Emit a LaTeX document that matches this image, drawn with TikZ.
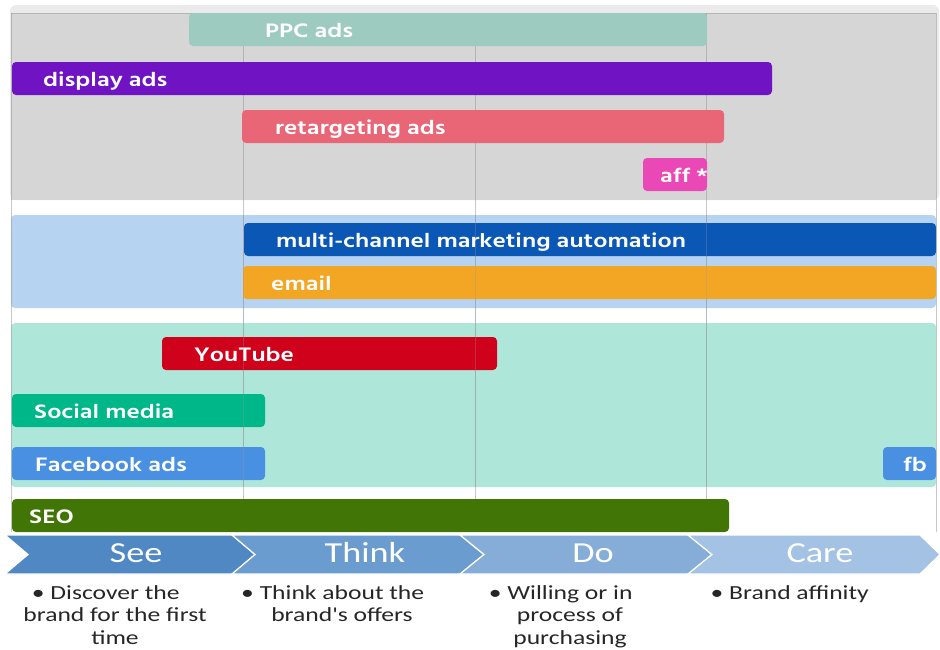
\documentclass[tikz,border=0pt]{standalone}
\usepackage{fontspec}
\setmainfont{Carlito}
\newfontfamily\barfont[FakeStretch=1.26]{Hind Siliguri}
\newfontfamily\stagefont[FakeStretch=1.25]{Carlito}
\newfontfamily\notefont[FakeStretch=1.28]{Carlito}

% channel colours
\definecolor{panelgray}{HTML}{D6D6D6}
\definecolor{panelblue}{HTML}{B6D3F2}
\definecolor{panelteal}{HTML}{AFE6DA}
\definecolor{ppcC}{HTML}{9ECBBF}
\definecolor{displayC}{HTML}{7013C3}
\definecolor{retargetC}{HTML}{E96677}
\definecolor{affC}{HTML}{EA47B7}
\definecolor{mcaC}{HTML}{0A57B5}
\definecolor{emailC}{HTML}{F3A524}
\definecolor{ytC}{HTML}{D0021B}
\definecolor{socialC}{HTML}{00B78A}
\definecolor{fbC}{HTML}{4A90E2}
\definecolor{seoC}{HTML}{417505}
% funnel stage colours
\definecolor{seeC}{HTML}{4F88C2}
\definecolor{thinkC}{HTML}{6A9CD0}
\definecolor{doC}{HTML}{86ADD8}
\definecolor{careC}{HTML}{A3C2E4}

\tikzset{
  barshape/.style={rounded corners=4pt},
  barlabel/.style={anchor=base west, inner sep=0pt, text=white,
    font=\barfont\bfseries\fontsize{20}{24}\selectfont},
  gridline/.style={draw=black!40, line width=0.8pt, opacity=0.55},
  gridover/.style={draw=black!40, line width=0.8pt, opacity=0.3},
  stage/.style={draw=white, line width=1.2pt},
  stagelabel/.style={anchor=base, inner sep=0pt, text=white,
    font=\stagefont\fontsize{29}{34}\selectfont},
  note/.style={align=center, inner sep=0pt, anchor=north, text=black!85,
    font=\notefont\fontsize{20}{22.5}\selectfont},
}

% name, left, right, top, colour, label x, label text
\newcommand{\chanbar}[7]{%
  \fill[barshape, fill=#5] (#2,#4) rectangle (#3,#4+33);
  \node[barlabel] (#1) at (#6,#4+24) {#7};}

\begin{document}
\begin{tikzpicture}[x=1pt, y=-1pt]
\useasboundingbox (0,0) rectangle (940,649);

% channel group panels
\fill[black!8, rounded corners=6pt] (10,5) rectangle (939,200);
\fill[panelgray] (11,13) rectangle (936,200);
\fill[panelblue, rounded corners=4pt] (11,215) rectangle (936,308);
\fill[panelteal, rounded corners=4pt] (11,323) rectangle (936,487);

% stage grid
\foreach \gx in {11,243,475,706,936}
  \draw[gridline] (\gx,13) -- (\gx,532);
\draw[gridline] (11,13) -- (936,13);

% paid channels
\chanbar{ppc}{189}{707}{13}{ppcC}{265}{PPC ads}
\chanbar{display}{12}{772}{62}{displayC}{43}{display ads}
\chanbar{retarget}{242}{724}{110}{retargetC}{275}{retargeting ads}
\chanbar{aff}{643}{707}{158}{affC}{660}{aff *}
% owned channels
\chanbar{mca}{244}{936}{223}{mcaC}{276}{multi-channel marketing automation}
\chanbar{email}{243}{936}{266}{emailC}{271}{email}
% social channels
\chanbar{youtube}{162}{497}{337}{ytC}{194}{YouTube}
\chanbar{social}{12}{265}{394}{socialC}{34}{Social media}
\chanbar{fbads}{12}{265}{447}{fbC}{35}{Facebook ads}
\chanbar{fb}{883}{936}{447}{fbC}{903}{fb}
% organic search
\chanbar{seo}{12}{729}{499}{seoC}{29}{SEO}

% grid shows faintly through the owned and social bars
\foreach \gx in {243,475,706}
  \draw[gridover] (\gx,215) -- (\gx,487);

% funnel stages
\filldraw[stage, fill=seeC] (5,535) -- (232,535) -- (255,554.5) -- (232,574) -- (5,574) -- (28,554.5) -- cycle;
\filldraw[stage, fill=thinkC] (232,535) -- (460,535) -- (484,554.5) -- (460,574) -- (232,574) -- (255,554.5) -- cycle;
\filldraw[stage, fill=doC] (460,535) -- (688,535) -- (712,554.5) -- (688,574) -- (460,574) -- (484,554.5) -- cycle;
\filldraw[stage, fill=careC] (688,535) -- (920,535) -- (940,554.5) -- (920,574) -- (688,574) -- (712,554.5) -- cycle;

\node[stagelabel] (see) at (136,562) {See};
\node[stagelabel] (think) at (365,562) {Think};
\node[stagelabel] (do) at (593,562) {Do};
\node[stagelabel] (care) at (820,562) {Care};

% stage descriptions
\node[note] (seenote) at (115,585) {\llap{\textbullet\ }Discover the\\brand for the first\\time};
\node[note] (thinknote) at (342,585) {\llap{\textbullet\ }Think about the\\brand's offers};
\node[note] (donote) at (570,585) {\llap{\textbullet\ }Willing or in\\process of\\purchasing};
\node[note] (carenote) at (799,585) {\llap{\textbullet\ }Brand affinity};
\end{tikzpicture}
\end{document}
